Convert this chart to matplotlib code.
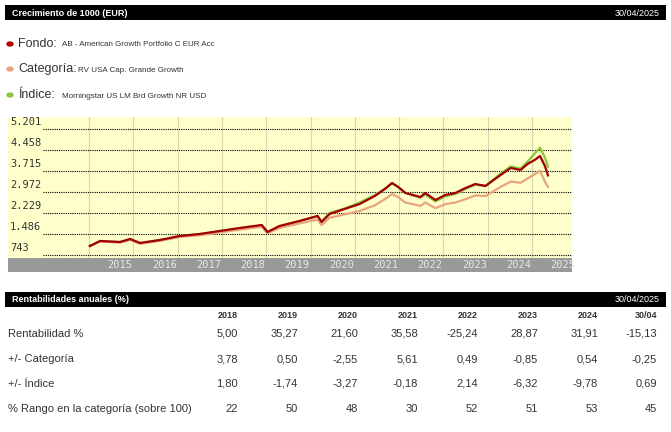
import matplotlib
matplotlib.use("Agg")
import matplotlib.pyplot as plt

cond = "Liberation Sans"

# --- data ---
t = [2015.02, 2015.25, 2015.70, 2015.93, 2016.15, 2016.60, 2017.05, 2017.50, 2017.95,
     2018.40, 2018.90, 2019.03, 2019.30, 2019.75, 2020.16, 2020.25, 2020.43, 2020.77,
     2021.11, 2021.45, 2021.68, 2021.84, 2021.98, 2022.14, 2022.48, 2022.59, 2022.82,
     2023.04, 2023.27, 2023.50, 2023.72, 2023.95, 2024.29, 2024.52, 2024.74, 2024.90,
     2025.06, 2025.18, 2025.29, 2025.36]
fondo = [1061, 1238, 1203, 1309, 1168, 1274, 1415, 1486, 1592, 1698, 1804, 1557, 1769,
         1946, 2123, 1911, 2194, 2371, 2548, 2830, 3078, 3290, 3149, 2937, 2795, 2937,
         2689, 2866, 2937, 3114, 3255, 3184, 3573, 3821, 3750, 3963, 4104, 4246, 3900, 3560]
categoria = [1061, 1225, 1180, 1280, 1140, 1240, 1380, 1440, 1540, 1640, 1740, 1510, 1700,
             1860, 2000, 1800, 2060, 2180, 2300, 2500, 2720, 2900, 2790, 2600, 2480, 2600,
             2400, 2540, 2600, 2720, 2850, 2830, 3150, 3340, 3300, 3450, 3600, 3720, 3350, 3150]
indice = [1061, 1235, 1200, 1305, 1165, 1270, 1410, 1480, 1585, 1690, 1790, 1550, 1760,
          1940, 2120, 1930, 2230, 2390, 2600, 2860, 3090, 3280, 3150, 2950, 2770, 2880,
          2640, 2820, 2900, 3080, 3230, 3190, 3620, 3880, 3800, 4050, 4330, 4540, 4200, 3870]
yticks = [743, 1486, 2229, 2972, 3715, 4458, 5201]
ytick_labels = ["743", "1.486", "2.229", "2.972", "3.715", "4.458", "5.201"]
years = list(range(2015, 2026))

row_labels = ["Rentabilidad %", "+/- Categoría", "+/- Índice", "% Rango en la categoría (sobre 100)"]
col_labels = ["2018", "2019", "2020", "2021", "2022", "2023", "2024", "30/04"]
table = [
    ["5,00", "35,27", "21,60", "35,58", "-25,24", "28,87", "31,91", "-15,13"],
    ["3,78", "0,50", "-2,55", "5,61", "0,49", "-0,85", "0,54", "-0,25"],
    ["1,80", "-1,74", "-3,27", "-0,18", "2,14", "-6,32", "-9,78", "0,69"],
    ["22", "50", "48", "30", "52", "51", "53", "45"],
]

W, H = 671, 432
fig = plt.figure(figsize=(W / 100, H / 100), dpi=100)

def px_axes(x0, y0, x1, y1):
    return fig.add_axes([x0 / W, 1 - y1 / H, (x1 - x0) / W, (y1 - y0) / H])

def ftext(x, y, s, **kw):
    fig.text(x / W, 1 - y / H, s, **kw)

# header bars
for y0, title, date in [(5, "Crecimiento de 1000 (EUR)", "30/04/2025"),
                        (292, "Rentabilidades anuales (%)", "30/04/2025")]:
    hb = px_axes(5, y0, 666, y0 + 15)
    hb.set_facecolor("black")
    hb.set_xticks([]); hb.set_yticks([])
    for s in hb.spines.values():
        s.set_visible(False)
    ftext(12, y0 + 8, title, color="white", fontsize=6.5, fontweight="bold", va="center", family=cond)
    ftext(660, y0 + 8, date, color="white", fontsize=6.5, va="center", ha="right", family=cond)

# legend
for y, c, lab, dx, desc in [(44, "#b00000", "Fondo:", 62, "AB - American Growth Portfolio C EUR Acc"),
                            (69, "#e8a47c", "Categoría:", 78, "RV USA Cap. Grande Growth"),
                            (95, "#8cc63f", "Índice:", 62, "Morningstar US LM Brd Growth NR USD")]:
    fig.patches.append(plt.Circle((10 / W, 1 - y / H), 3 / W, color=c, transform=fig.transFigure))
    ftext(18, y, lab, fontsize=9, color="#333333", va="center", family=cond)
    ftext(dx, y + 1, desc, fontsize=5.8, color="#333333", va="center", family=cond)

# chart
def tx(px):
    return 2015 + (px - 89) / 44.3

def vy(py):
    return 743 + (255 - py) / 21 * 743

ax = px_axes(8, 117, 572, 258)
ax.set_facecolor("#ffffcc")
ax.set_xlim(tx(8), tx(572))
ax.set_ylim(vy(258), vy(117))
for s in ax.spines.values():
    s.set_visible(False)
ax.set_xticks([]); ax.set_yticks([])
for yr in years:
    ax.axvline(yr, color="#d8d8b0", lw=0.8, zorder=1)
for v, lab in zip(yticks, ytick_labels):
    ax.hlines(v, tx(43), tx(572), colors="black", linestyles=(0, (1, 1)), lw=0.8, zorder=2)
    ax.text(tx(10), v + 60, lab, fontsize=7.5, family="DejaVu Sans Mono", va="bottom", color="#333333")
ax.plot(t, indice, color="#8cc63f", lw=1.6, zorder=3)
ax.plot(t, categoria, color="#e8a47c", lw=1.6, zorder=4)
ax.plot(t, fondo, color="#a00000", lw=1.6, zorder=5)

band = px_axes(8, 258, 572, 272)
band.set_facecolor("#999999")
band.set_xlim(tx(8), tx(572)); band.set_ylim(0, 1)
band.set_xticks([]); band.set_yticks([])
for s in band.spines.values():
    s.set_visible(False)
for yr in years:
    band.text(yr + 0.7, 0.5, str(yr), fontsize=7.5, family="DejaVu Sans Mono", color="#e8e8e8",
              ha="center", va="center")

# table
col_x = [238, 298, 358, 418, 478, 538, 598, 657]
for x, c in zip(col_x, col_labels):
    ftext(x, 315, c, fontsize=6.5, fontweight="bold", ha="right", va="center", color="#333333", family=cond)
for i, (lab, row) in enumerate(zip(row_labels, table)):
    y = 334 + i * 25
    ftext(8, y, lab, fontsize=8, va="center", color="#333333", family=cond)
    for x, v in zip(col_x, row):
        ftext(x, y, v, fontsize=8, ha="right", va="center", color="#333333", family=cond)

fig.savefig("out.png", dpi=100)
